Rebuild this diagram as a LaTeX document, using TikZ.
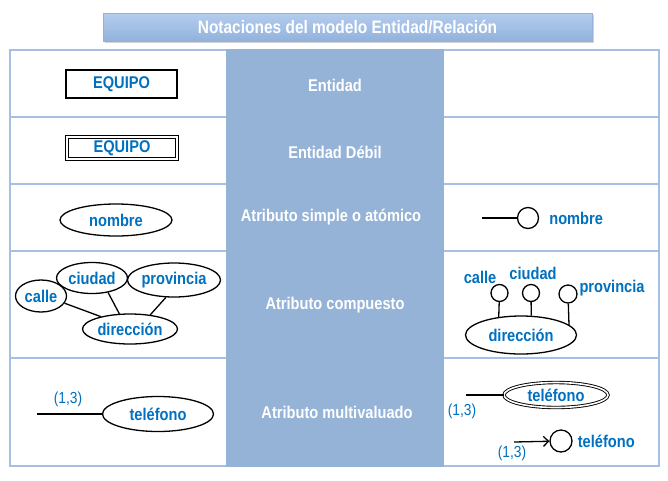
\documentclass[tikz,border=0pt]{standalone}
\usepackage{fontspec}
\setmainfont{Liberation Sans}[FakeStretch=0.86]
\usetikzlibrary{shapes.geometric, shadows, arrows.meta, positioning}

\definecolor{azul}{HTML}{0070C0}
\definecolor{columna}{HTML}{95B3D7}
\definecolor{marco}{HTML}{A6C0E4}
\definecolor{barraA}{HTML}{B4CDEE}
\definecolor{barraB}{HTML}{92B2DC}
\newcommand\etq{\fontsize{17}{19}\selectfont\bfseries}
\newcommand\etqn{\fontsize{16}{18}\selectfont}

\begin{document}
\begin{tikzpicture}[x=1pt, y=-1pt,
  texto/.style={text=azul, font=\etq, inner sep=1pt},
  notacion/.style={text=white, font=\etq},
  atrib/.style={ellipse, draw, line width=1.3pt, inner sep=0pt, text=azul, font=\etq},
  bolita/.style={circle, draw, line width=1.3pt, inner sep=0pt},
  linea/.style={line width=1.3pt}]
  \useasboundingbox (0,0) rectangle (668,480);
  % title bar
  \node[top color=barraA, bottom color=barraB, draw=barraB, minimum width=489pt, minimum height=28pt,
        drop shadow={opacity=0.35, shadow xshift=1.5pt, shadow yshift=-1.5pt},
        text=white, font=\fontsize{18}{20}\selectfont\bfseries] (titulo) at (347.5,27) {Notaciones del modelo Entidad/Relaci\'on};
  % table: frame, rows, middle column
  \draw[marco, line width=2pt] (10,50) rectangle (659,466);
  \foreach \y in {117,184,251,358}
    \draw[marco, line width=2pt] (10,\y) -- (659,\y);
  \fill[columna] (226,49) rectangle (444,467);
  % notation names
  \node[notacion] (ent)   at (335,85)  {Entidad};
  \node[notacion] (deb)   at (335,152) {Entidad Débil};
  \node[notacion] (simp)  at (331,217) {Atributo simple o atómico};
  \node[notacion] (comp)  at (335,305) {Atributo compuesto};
  \node[notacion] (multi) at (337,412) {Atributo multivaluado};
  % entity, weak entity
  \node[draw, line width=2pt, minimum width=111pt, minimum height=28pt, texto] (equipo) at (121.5,84) {EQUIPO};
  \node[draw, double, double distance=2.5pt, line width=1.2pt, minimum width=110pt, minimum height=22pt,
        texto] (equipod) at (122,148) {EQUIPO};
  % simple attribute
  \node[atrib, minimum width=112pt, minimum height=32pt] (nombre) at (116,220) {nombre};
  \coordinate (n0) at (482,218);
  \node[bolita, minimum size=21pt] (bn) at (528,218) {};
  \node[texto, right=9pt of bn] (nombre2) {nombre};
  \draw[linea] (n0) -- (bn);
  % composite attribute, left
  \node[atrib, minimum width=51pt, minimum height=32pt] (calle)  at (41,296)  {calle};
  \node[atrib, minimum width=71pt, minimum height=31pt] (ciudad) at (92,278)  {ciudad};
  \node[atrib, minimum width=93pt, minimum height=34pt] (prov)   at (174,280) {provincia};
  \node[atrib, minimum width=95pt, minimum height=30pt] (dir)    at (130,329) {dirección};
  \draw[linea] (calle.-17) -- (dir.157);
  \draw[linea] (ciudad.-42) -- (dir.125);
  \draw[linea] (prov.-115) -- (dir.35);
  % composite attribute, right
  \node[atrib, minimum width=111pt, minimum height=38pt] (dirr) at (521,335) {dirección};
  \node[bolita, minimum size=17pt] (c1) at (499.5,293) {};
  \node[bolita, minimum size=17pt] (c2) at (531,293) {};
  \node[bolita, minimum size=18pt] (c3) at (568,294) {};
  \draw[linea] (c1) -- (dirr.141);
  \draw[linea] (c2) -- (dirr.62);
  \draw[linea] (c3) -- (dirr.12);
  \node[texto] (lcalle)  at (480,277) {calle};
  \node[texto] (lciudad) at (533,273) {ciudad};
  \node[texto] (lprov)   at (612,288) {provincia};
  % multivalued attribute, left
  \coordinate (t1) at (37,414);
  \node[atrib, minimum width=111pt, minimum height=35pt] (tel1) at (158,414) {teléfono};
  \draw[linea] (t1) -- (tel1);
  \node[texto, font=\etqn] (card1) at (68,399) {(1,3)};
  % multivalued attribute, right
  \coordinate (t2) at (466,395);
  \node[atrib, double, double distance=1.6pt, line width=0.9pt, minimum width=104pt, minimum height=25pt] (tel2) at (556,395) {teléfono};
  \draw[linea] (t2) -- (tel2);
  \node[texto, font=\etqn] (card2) at (462,411) {(1,3)};
  \coordinate (t3) at (514,442);
  \node[bolita, minimum size=22pt] (ct) at (561,441) {};
  \draw[linea, -{Straight Barb[length=5pt, width=10pt]}] (t3) -- (ct);
  \node[texto, right=4pt of ct] (tel3) {teléfono};
  \node[texto, font=\etqn] (card3) at (512,453) {(1,3)};
\end{tikzpicture}
\end{document}
